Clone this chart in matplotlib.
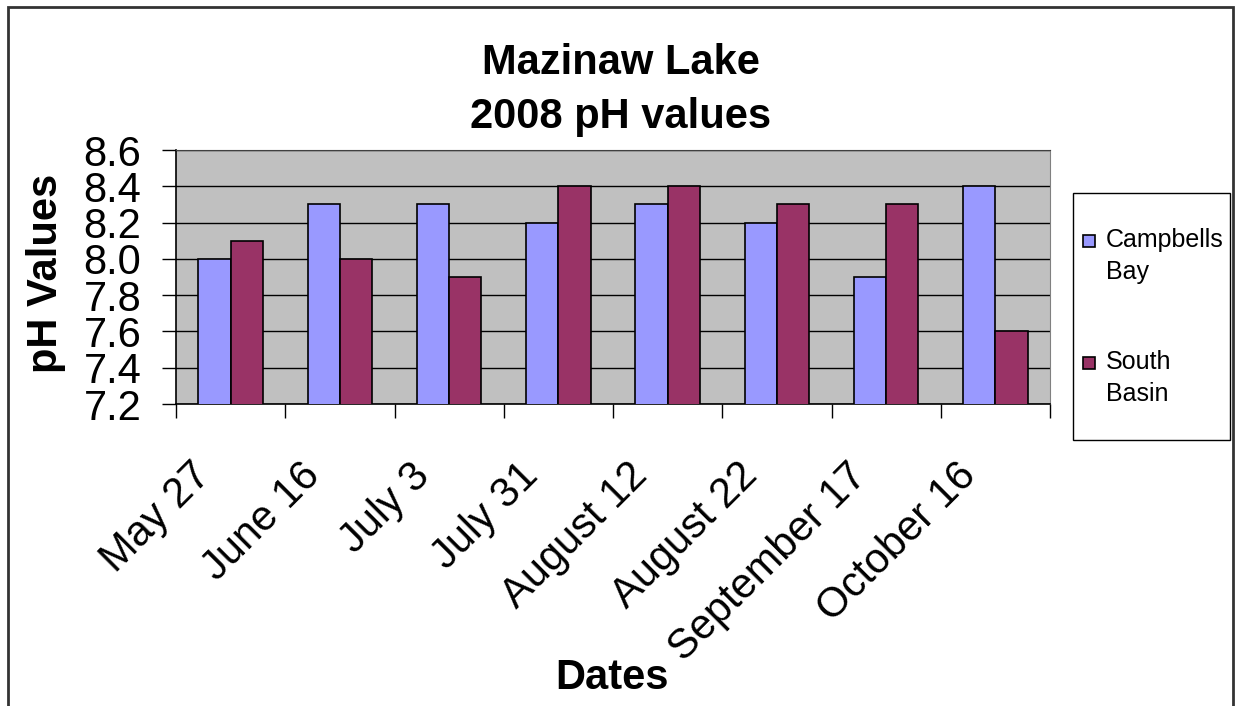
import matplotlib.pyplot as plt
from matplotlib.patches import Rectangle
from matplotlib.transforms import ScaledTranslation
import numpy as np

plt.rcParams['font.family'] = ['Liberation Sans', 'DejaVu Sans']

dates = ["May 27", "June 16", "July 3", "July 31", "August 12",
         "August 22", "September 17", "October 16"]
campbells_bay = [8.0, 8.3, 8.3, 8.2, 8.3, 8.2, 7.9, 8.4]
south_basin = [8.1, 8.0, 7.9, 8.4, 8.4, 8.3, 8.3, 7.6]
series_names = [("Campbells", "Bay"), ("South", "Basin")]
series_colors = ['#9999FF', '#993366']
yticks = [7.2, 7.4, 7.6, 7.8, 8.0, 8.2, 8.4, 8.6]

W, H = 1235, 706
fig = plt.figure(figsize=(W / 100, H / 100), dpi=100)
ax = fig.add_axes([176 / W, 1 - 404 / H, 874 / W, 254 / H])
ax.set_facecolor('#C0C0C0')

x = np.arange(len(dates))
bw = 0.295
ax.bar(x - bw / 2, campbells_bay, bw, bottom=0, color=series_colors[0],
       edgecolor='black', linewidth=1.2, zorder=3)
ax.bar(x + bw / 2, south_basin, bw, bottom=0, color=series_colors[1],
       edgecolor='black', linewidth=1.2, zorder=3)

ax.set_ylim(7.2, 8.6)
ax.set_xlim(-0.5, len(dates) - 0.5)
ax.set_yticks(yticks)
ax.set_yticklabels([f"{v:.1f}" for v in yticks], fontsize=30)
ax.yaxis.grid(True, color='black', linewidth=1, zorder=1)
ax.tick_params(axis='y', direction='out', length=10, width=1, pad=15)

# category boundaries get tick marks, centres get labels
ax.set_xticks(np.arange(len(dates) + 1) - 0.5)
ax.set_xticklabels([])
ax.tick_params(axis='x', which='major', direction='out', length=10, width=1)
ax.set_xticks(x, minor=True)
ax.set_xticklabels(dates, minor=True, rotation=45, ha='right', va='top',
                   rotation_mode='anchor', fontsize=30)
ax.tick_params(axis='x', which='minor', length=0, pad=14)
shift = ScaledTranslation(-0.40, -0.32, fig.dpi_scale_trans)
for lab in ax.get_xticklabels(minor=True):
    lab.set_transform(lab.get_transform() + shift)

ax.spines['right'].set_color('#808080')
ax.spines['top'].set_color('#404040')
ax.spines['left'].set_linewidth(1.2)
ax.spines['bottom'].set_linewidth(1.2)

fig.text(46 / W, 1 - 273 / H, "pH Values", fontsize=30, fontweight='bold',
         ha='center', va='center', rotation=90)
fig.text(612 / W, 1 - 678 / H, "Dates", fontsize=30, fontweight='bold',
         ha='center', va='center')
fig.text(621 / W, 1 - 90 / H, "Mazinaw Lake\n2008 pH values", fontsize=30,
         fontweight='bold', ha='center', va='center', linespacing=1.45)

# legend
fig.patches.append(Rectangle((1073 / W, 1 - 440 / H), 157 / W, 247 / H,
                             transform=fig.transFigure, fill=False,
                             edgecolor='black', linewidth=1))
for i, (names, col) in enumerate(zip(series_names, series_colors)):
    yc = 241 + i * 122
    fig.patches.append(Rectangle((1083 / W, 1 - (yc + 6) / H), 12 / W, 12 / H,
                                 transform=fig.transFigure, facecolor=col,
                                 edgecolor='black', linewidth=1.2))
    fig.text(1106 / W, 1 - (yc + 15) / H, names[0] + "\n" + names[1],
             fontsize=18, ha='left', va='center', linespacing=1.4)

# outer chart frame
fig.patches.append(Rectangle((8 / W, -0.1), 1225 / W, 1 - 7 / H + 0.1,
                             transform=fig.transFigure, fill=False,
                             edgecolor='#333333', linewidth=2))

fig.savefig("out.png", dpi=100)
